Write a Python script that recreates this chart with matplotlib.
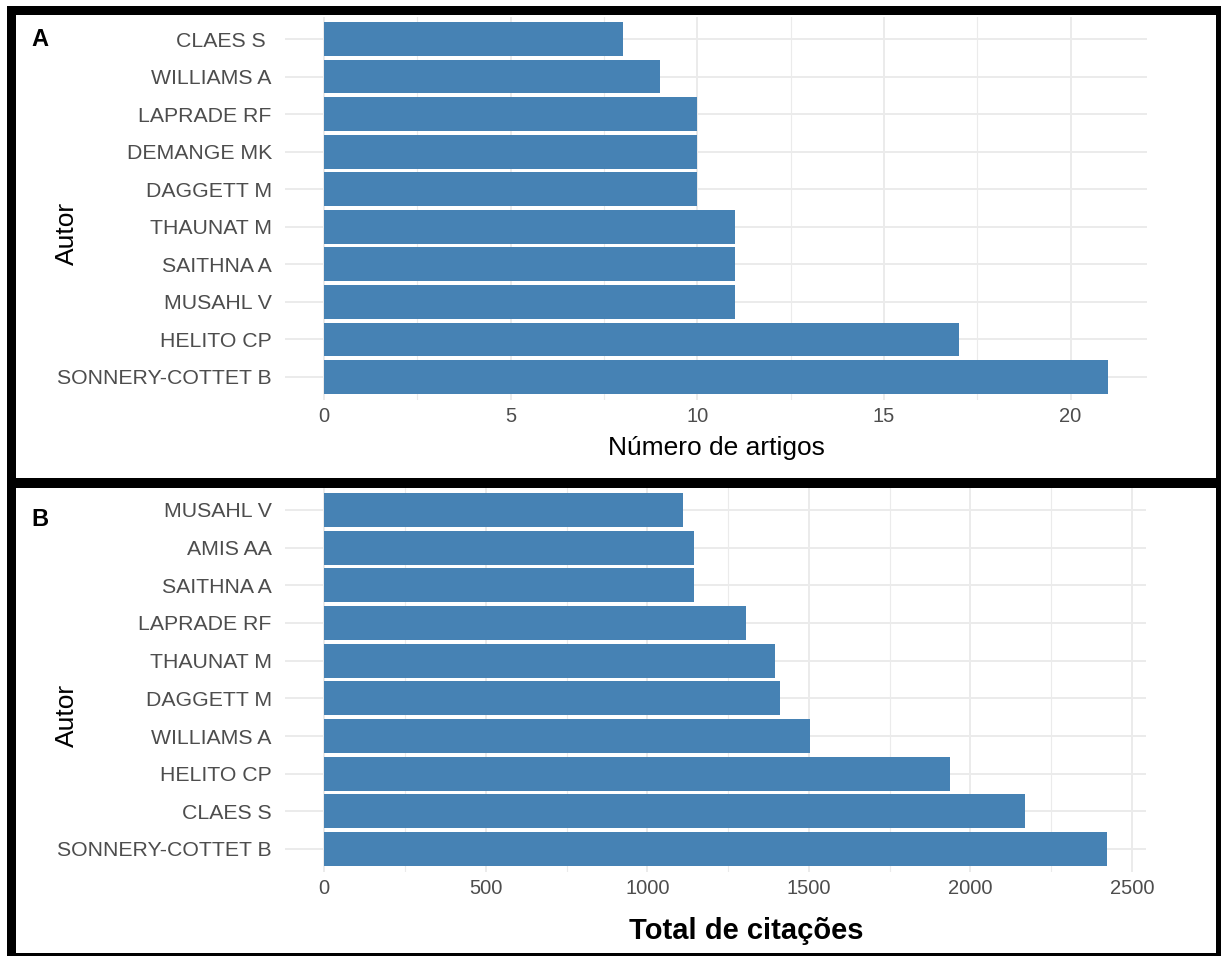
import numpy as np, matplotlib
matplotlib.use("Agg")
import matplotlib.pyplot as plt
from matplotlib.patches import Rectangle
from matplotlib.ticker import MultipleLocator

plt.rcParams.update({"font.family": ["Liberation Sans", "DejaVu Sans"], "axes.unicode_minus": False})
BAR, GRID, TXT = "#4682B4", "#EBEBEB", "#4D4D4D"
W, H = 1221, 956

# panel A: number of articles (top -> bottom as drawn)
autores_a = ["CLAES S ", "WILLIAMS A", "LAPRADE RF", "DEMANGE MK", "DAGGETT M",
             "THAUNAT M", "SAITHNA A", "MUSAHL V", "HELITO CP", "SONNERY-COTTET B"]
artigos = [8, 9, 10, 10, 10, 11, 11, 11, 17, 21]
# panel B: total citations
autores_b = ["MUSAHL V", "AMIS AA", "SAITHNA A", "LAPRADE RF", "THAUNAT M",
             "DAGGETT M", "WILLIAMS A", "HELITO CP", "CLAES S", "SONNERY-COTTET B"]
citacoes = [1111, 1143, 1145, 1305, 1394, 1411, 1504, 1938, 2170, 2422]

fig = plt.figure(figsize=(W/100, H/100), dpi=100)
fig.patch.set_facecolor("white")

def box(l, r, t, b):  # pixel box (origin top-left) -> figure fraction rect
    return [l/W, 1 - b/H, (r-l)/W, (b-t)/H]

def panel(rect, names, vals, major, minor):
    ax = fig.add_axes(rect)
    n = len(names); ys = np.arange(n)[::-1]
    ax.barh(ys, vals, height=0.9, color=BAR, zorder=3)
    top = max(vals); pad = 0.05*top
    ax.set_xlim(-pad, top+pad); ax.set_ylim(-0.6, n-0.4)
    ax.set_yticks(ys); ax.set_yticklabels(names, fontsize=15.3, color=TXT)
    ax.xaxis.set_major_locator(MultipleLocator(major)); ax.xaxis.set_minor_locator(MultipleLocator(minor))
    ax.grid(True, which="major", color=GRID, lw=1.4, zorder=0)
    ax.grid(True, which="minor", axis="x", color=GRID, lw=0.8, zorder=0)
    ax.set_axisbelow(True)
    for s in ax.spines.values(): s.set_visible(False)
    ax.tick_params(axis="y", length=0, pad=9.5)
    ax.tick_params(axis="x", which="both", length=0, pad=5.5, labelsize=14.5, labelcolor=TXT)
    return ax

axA = panel(box(285, 1147, 16.5, 399.5), autores_a, artigos, 5, 2.5)
axB = panel(box(285, 1146, 487.4, 871.6), autores_b, citacoes, 500, 250)

def ftxt(x, y, s, **kw):
    fig.text(x/W, 1 - y/H, s, **kw)

ftxt(67, 233, "Autor", rotation=90, ha="center", va="center", fontsize=19)
ftxt(67, 715, "Autor", rotation=90, ha="center", va="center", fontsize=19)
ftxt(716, 455, "Número de artigos", ha="center", va="baseline", fontsize=19)
ftxt(746.5, 939, "Total de citações", ha="center", va="baseline", fontsize=21, fontweight="bold")
ftxt(40, 39.5, "A", ha="center", va="center", fontsize=17, fontweight="bold")
ftxt(40, 519, "B", ha="center", va="center", fontsize=17, fontweight="bold")

# black frame around the two panels
for l, r, t, b in [(7, 1221, 6, 15), (7, 16, 6, 956), (7, 1221, 478, 488),
                   (1216, 1221, 6, 956), (7, 1221, 953, 956)]:
    x0, y0, w, h = box(l, r, t, b)
    fig.add_artist(Rectangle((x0, y0), w, h, transform=fig.transFigure, color="black", lw=0, zorder=10))

fig.savefig("out.png", dpi=100)
